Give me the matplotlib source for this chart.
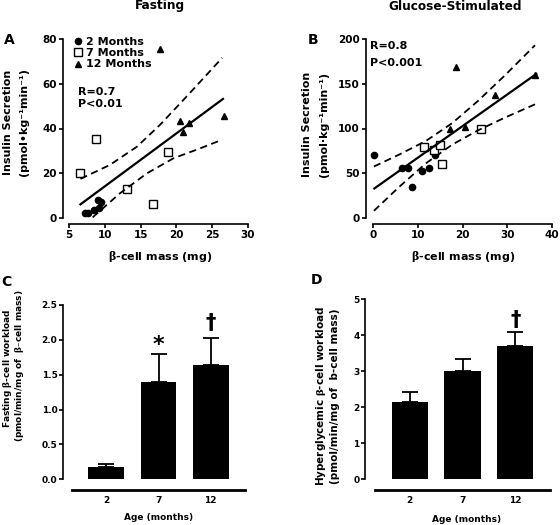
import matplotlib
matplotlib.use("Agg")
import matplotlib.pyplot as plt

plt.rcParams["font.family"] = "DejaVu Sans"
plt.rcParams["font.weight"] = "bold"
plt.rcParams["mathtext.fontset"] = "dejavuserif"
plt.rcParams["axes.linewidth"] = 1.2

# ---------------- data ----------------
# A: fasting insulin secretion vs beta-cell mass
fast_2mo_x = [7.2, 7.7, 8.5, 9.1, 9.4, 9.2]
fast_2mo_y = [2.4, 2.4, 3.6, 8.0, 7.3, 4.3]
fast_7mo_x = [6.6, 8.8, 13.1, 16.7, 18.8]
fast_7mo_y = [20.0, 35.3, 12.8, 6.3, 29.6]
fast_12mo_x = [17.7, 20.5, 21.7, 20.9, 26.6]
fast_12mo_y = [75.4, 43.5, 42.6, 38.3, 45.6]
fast_fit_x = [6.6, 26.5]
fast_fit_y = [6.1, 53.2]
fast_hi_x = [6.6, 10.7, 14.5, 17.7, 21.4, 26.4]
fast_hi_y = [17.5, 23.7, 31.9, 41.6, 54.2, 71.6]
fast_lo_x = [8.3, 12.1, 15.9, 19.6, 23.3, 26.4]
fast_lo_y = [0.3, 11.0, 20.0, 26.7, 31.1, 35.0]

# B: glucose-stimulated insulin secretion vs beta-cell mass
glu_2mo_x = [0.2, 6.5, 7.8, 8.7, 10.9, 12.6, 13.9]
glu_2mo_y = [70.0, 55.9, 55.9, 35.0, 52.9, 55.9, 70.0]
glu_7mo_x = [11.4, 13.6, 15.0, 15.5, 24.1]
glu_7mo_y = [79.7, 76.0, 81.6, 60.3, 99.4]
glu_12mo_x = [18.6, 17.3, 20.6, 27.3, 36.2]
glu_12mo_y = [168.4, 99.8, 102.0, 137.4, 159.8]
glu_fit_x = [0.3, 36.5]
glu_fit_y = [33.0, 161.0]
glu_hi_x = [0.2, 5.9, 11.8, 17.7, 23.5, 29.4, 36.2]
glu_hi_y = [57.5, 71.0, 86.0, 106.0, 131.0, 159.0, 193.0]
glu_lo_x = [0.2, 5.9, 11.8, 17.7, 23.5, 29.4, 36.2]
glu_lo_y = [8.0, 35.0, 61.0, 82.0, 98.0, 112.0, 127.0]

# C, D: workload bars
ages = ["2", "7", "12"]
fast_load = [0.176, 1.40, 1.64]
fast_load_err = [0.04, 0.40, 0.39]
glu_load = [2.14, 3.02, 3.70]
glu_load_err = [0.28, 0.31, 0.39]

# ---------------- layout helpers ----------------
W, H = 560, 525


def box(l, t, r, b):
    return [l / W, 1 - b / H, (r - l) / W, (b - t) / H]


def px(x, y):
    return x / W, 1 - y / H


fig = plt.figure(figsize=(5.6, 5.25), dpi=100)

BETA = r"$\mathrm{\beta}$"


def scatter_axes(ax, xlim, ylim, xticks, yticks, off_l, off_b):
    ax.set_xlim(xlim)
    ax.set_ylim(ylim)
    ax.spines["top"].set_visible(False)
    ax.spines["right"].set_visible(False)
    ax.spines["left"].set_position(("outward", off_l))
    ax.spines["bottom"].set_position(("outward", off_b))
    ax.spines["left"].set_bounds(*ylim)
    ax.spines["bottom"].set_bounds(*xlim)
    ax.set_xticks(xticks)
    ax.set_yticks(yticks)
    ax.tick_params(direction="out", length=3, width=1.2, labelsize=7.5, pad=1.5)


def draw_points(ax, xs2, ys2, xs7, ys7, xs12, ys12):
    h1, = ax.plot(xs2, ys2, "o", ms=4.5, color="black", clip_on=False)
    h2, = ax.plot(xs7, ys7, "s", ms=5.5, mfc="white", mec="black", mew=1.0, clip_on=False)
    h3, = ax.plot(xs12, ys12, "^", ms=5, color="black", clip_on=False)
    return h1, h2, h3


# ---------------- A ----------------
axA = fig.add_axes(box(69, 39, 248, 218))
scatter_axes(axA, (5, 30), (0, 80), [5, 10, 15, 20, 25, 30], [0, 20, 40, 60, 80], 4.3, 4.3)
h1, h2, h3 = draw_points(axA, fast_2mo_x, fast_2mo_y, fast_7mo_x, fast_7mo_y,
                         fast_12mo_x, fast_12mo_y)
axA.plot(fast_fit_x, fast_fit_y, color="black", lw=1.6, clip_on=False)
axA.plot(fast_hi_x, fast_hi_y, color="black", lw=1.3, ls=(0, (4, 2.5)), clip_on=False)
axA.plot(fast_lo_x, fast_lo_y, color="black", lw=1.3, ls=(0, (4, 2.5)), clip_on=False)
axA.legend([h1, h2, h3], ["2 Months", "7 Months", "12 Months"], loc="upper left",
           bbox_to_anchor=(0.02, 1.01), frameon=False, fontsize=8, handlelength=1,
           handletextpad=0.2, labelspacing=0.1, borderpad=0, borderaxespad=0)
fig.text(*px(78, 92), "R=0.7", fontsize=8, va="center")
fig.text(*px(78, 104), "P<0.01", fontsize=8, va="center")
fig.text(*px(160, 257), BETA + "-cell mass (mg)", fontsize=8, ha="center", va="center")
fig.text(*px(8, 122), "Insulin Secretion", fontsize=8, rotation=90, ha="center", va="center")
fig.text(*px(24, 122), "(pmol\u2022kg\u207b\u00b9min\u207b\u00b9)", fontsize=8, rotation=90,
         ha="center", va="center")
fig.text(*px(160, 6), "Fasting", fontsize=8.7, ha="center", va="center")
fig.text(*px(9, 40), "A", fontsize=10, ha="center", va="center")

# ---------------- B ----------------
axB = fig.add_axes(box(373, 39, 552, 218))
scatter_axes(axB, (0, 40), (0, 200), [0, 10, 20, 30, 40], [0, 50, 100, 150, 200], 5, 4.3)
draw_points(axB, glu_2mo_x, glu_2mo_y, glu_7mo_x, glu_7mo_y, glu_12mo_x, glu_12mo_y)
axB.plot(glu_fit_x, glu_fit_y, color="black", lw=1.6, clip_on=False)
axB.plot(glu_hi_x, glu_hi_y, color="black", lw=1.3, ls=(0, (4, 2.5)), clip_on=False)
axB.plot(glu_lo_x, glu_lo_y, color="black", lw=1.3, ls=(0, (4, 2.5)), clip_on=False)
fig.text(*px(370, 46), "R=0.8", fontsize=8, va="center")
fig.text(*px(370, 63), "P<0.001", fontsize=8, va="center")
fig.text(*px(463, 257), BETA + "-cell mass (mg)", fontsize=8, ha="center", va="center")
fig.text(*px(307, 124), "Insulin Secretion", fontsize=8, rotation=90, ha="center", va="center")
fig.text(*px(324, 124), "(pmol\u00b7kg\u207b\u00b9min\u207b\u00b9)", fontsize=8, rotation=90,
         ha="center", va="center")
fig.text(*px(455, 6), "Glucose-Stimulated", fontsize=8.7, ha="center", va="center")
fig.text(*px(313, 40), "B", fontsize=10, ha="center", va="center")


# ---------------- C, D ----------------
def bar_axes(ax, vals, errs, ylim, yticks, fmt, off_l):
    pos = range(len(vals))
    ax.bar(pos, vals, width=0.69, color="black")
    ax.errorbar(pos, vals, yerr=[[0] * len(errs), errs], fmt="none", ecolor="black",
                elinewidth=1.3, capsize=6, capthick=1.3)
    ax.set_xlim(-0.66, 2.66)
    ax.set_ylim(ylim)
    ax.spines["top"].set_visible(False)
    ax.spines["right"].set_visible(False)
    ax.spines["left"].set_position(("outward", off_l))
    ax.spines["left"].set_bounds(*ylim)
    ax.spines["bottom"].set_position(("outward", 8))
    ax.spines["bottom"].set_linewidth(2)
    ax.set_yticks(yticks)
    ax.set_yticklabels([fmt.format(v) for v in yticks])
    ax.set_xticks(list(pos))
    ax.set_xticklabels(ages)
    ax.tick_params(axis="y", direction="out", length=3, width=1.2, labelsize=6.5, pad=1)
    ax.tick_params(axis="x", length=0, labelsize=6.5, pad=4)


axC = fig.add_axes(box(72, 305, 245, 479.3))
bar_axes(axC, fast_load, fast_load_err, (0, 2.5), [0, 0.5, 1.0, 1.5, 2.0, 2.5], "{:.1f}", 6.5)
axC.text(1, 1.93, "*", fontsize=16, ha="center", va="center")
axC.text(2, 2.24, "\u2020", fontsize=15, ha="center", va="center")
fig.text(*px(159, 518), "Age (months)", fontsize=6.5, ha="center", va="center")
fig.text(*px(8, 368), "Fasting " + BETA + "-cell workload", fontsize=6.5, rotation=90,
         ha="center", va="center")
fig.text(*px(20, 366), "(pmol/min/mg of  " + BETA + "\u2013cell mass)", fontsize=6.5,
         rotation=90, ha="center", va="center")
fig.text(*px(6, 282), "C", fontsize=10, ha="center", va="center")

axD = fig.add_axes(box(375, 299.3, 550, 479.3))
bar_axes(axD, glu_load, glu_load_err, (0, 5), [0, 1, 2, 3, 4, 5], "{:d}", 7.2)
axD.text(2, 4.42, "\u2020", fontsize=15, ha="center", va="center")
fig.text(*px(467, 520), "Age (months)", fontsize=6.5, ha="center", va="center")
fig.text(*px(321, 396), "Hyperglycemic " + BETA + "-cell workload", fontsize=7.5,
         rotation=90, ha="center", va="center")
fig.text(*px(335, 396), "(pmol/min/mg of  b-cell mass)", fontsize=7.5, rotation=90,
         ha="center", va="center")
fig.text(*px(317, 280), "D", fontsize=10, ha="center", va="center")

fig.savefig("out.png", dpi=100)
